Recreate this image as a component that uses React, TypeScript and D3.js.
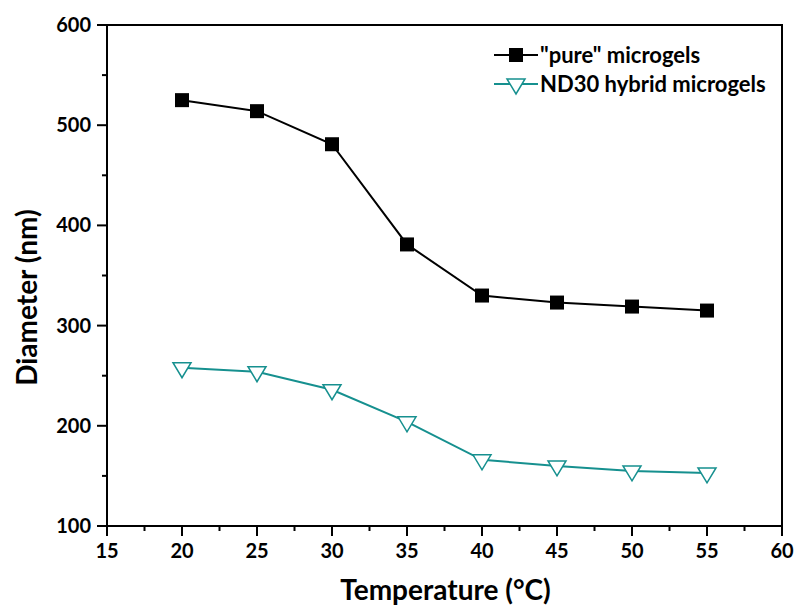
import React from 'react';
import * as d3 from 'd3';

const temps = [20, 25, 30, 35, 40, 45, 50, 55];
const pureDiam = [525, 514, 481, 381, 330, 323, 319, 315];
const hybridDiam = [258, 254, 236, 204, 166, 160, 155, 153];
const xTicks = [15, 20, 25, 30, 35, 40, 45, 50, 55, 60];
const yTicks = [100, 200, 300, 400, 500, 600];

const W = 796;
const H = 608;
const margin = { top: 25, right: 14, bottom: 82, left: 107 };
const FONT = 'Lato, "Open Sans", sans-serif';
const TEAL = '#16908f';

export default function App() {
  const innerW = W - margin.left - margin.right;
  const innerH = H - margin.top - margin.bottom;

  const x = d3.scaleLinear().domain([15, 60]).range([0, innerW]);
  const y = d3.scaleLinear().domain([100, 600]).range([innerH, 0]);

  const line = d3.line<number>()
    .x((_, i) => x(temps[i]))
    .y(d => y(d));

  const xMinor = d3.range(17.5, 60, 5);
  const yMinor = d3.range(150, 600, 100);

  const tri = (cx: number, cy: number) => {
    // down triangle, centroid at data point
    const w = 9, h = 15;
    return `M${cx - w},${cy - h / 3}L${cx + w},${cy - h / 3}L${cx},${cy + (2 * h) / 3}Z`;
  };

  return (
    <svg width={W} height={H} style={{ position: 'absolute', left: 0, top: 0, background: '#fff' }}>
      <g transform={`translate(${margin.left},${margin.top})`}>
        {/* frame */}
        <rect x={0} y={0} width={innerW} height={innerH} fill="none" stroke="#000" strokeWidth={2} />

        {/* x ticks */}
        {xTicks.map(t => (
          <g key={'xt' + t}>
            <line x1={x(t)} x2={x(t)} y1={innerH} y2={innerH + 10} stroke="#000" strokeWidth={2} />
            <text x={x(t)} y={innerH + 32} textAnchor="middle" fontFamily={FONT} fontWeight="bold" fontSize={20}>{t}</text>
          </g>
        ))}
        {xMinor.map(t => (
          <line key={'xm' + t} x1={x(t)} x2={x(t)} y1={innerH} y2={innerH + 5} stroke="#000" strokeWidth={2} />
        ))}

        {/* y ticks */}
        {yTicks.map(t => (
          <g key={'yt' + t}>
            <line x1={-10} x2={0} y1={y(t)} y2={y(t)} stroke="#000" strokeWidth={2} />
            <text x={-16} y={y(t) + 7} textAnchor="end" fontFamily={FONT} fontWeight="bold" fontSize={20}>{t}</text>
          </g>
        ))}
        {yMinor.map(t => (
          <line key={'ym' + t} x1={-5} x2={0} y1={y(t)} y2={y(t)} stroke="#000" strokeWidth={2} />
        ))}

        {/* series */}
        <path d={line(hybridDiam) || ''} fill="none" stroke={TEAL} strokeWidth={2} />
        {hybridDiam.map((d, i) => (
          <path key={'h' + i} d={tri(x(temps[i]), y(d))} fill="#fff" stroke={TEAL} strokeWidth={1.5} />
        ))}

        <path d={line(pureDiam) || ''} fill="none" stroke="#000" strokeWidth={2} />
        {pureDiam.map((d, i) => (
          <rect key={'p' + i} x={x(temps[i]) - 7} y={y(d) - 7} width={14} height={14} fill="#000" />
        ))}

        {/* legend */}
        <g transform={`translate(${494 - margin.left},${55 - margin.top})`}>
          <line x1={0} x2={44} y1={0} y2={0} stroke="#000" strokeWidth={2} />
          <rect x={15} y={-7} width={14} height={14} fill="#000" />
          <text x={46} y={8} fontFamily={FONT} fontWeight="bold" fontSize={22}>"pure" microgels</text>

          <line x1={0} x2={44} y1={29} y2={29} stroke={TEAL} strokeWidth={2} />
          <path d={tri(22, 29)} fill="#fff" stroke={TEAL} strokeWidth={1.5} />
          <text x={46} y={37} fontFamily={FONT} fontWeight="bold" fontSize={22}>ND30 hybrid microgels</text>
        </g>

        {/* axis titles */}
        <text x={innerW / 2 + 1} y={innerH + 74} textAnchor="middle" fontFamily={FONT} fontWeight="bold" fontSize={28}>Temperature (°C)</text>
        <text transform={`translate(${-70},${innerH / 2 + 22}) rotate(-90)`} textAnchor="middle" fontFamily={FONT} fontWeight="bold" fontSize={28}>Diameter (nm)</text>
      </g>
    </svg>
  );
}
